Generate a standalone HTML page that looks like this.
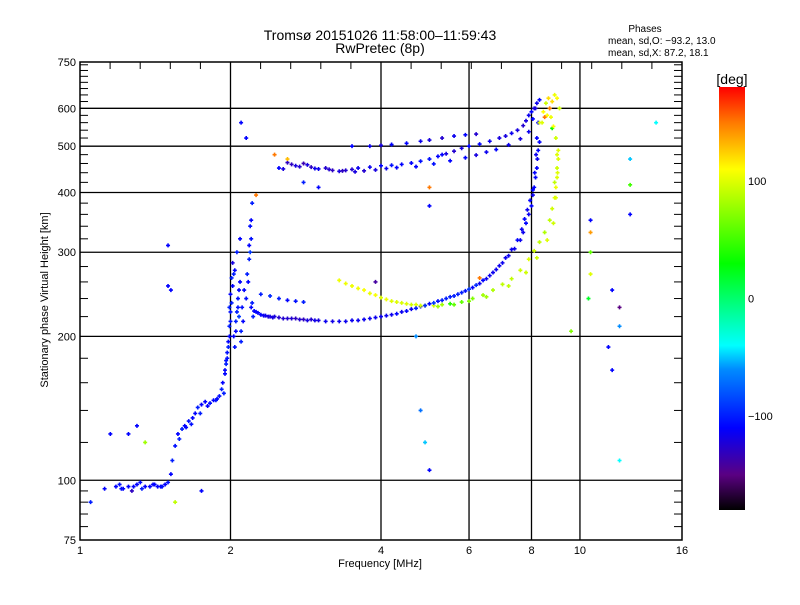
<!DOCTYPE html>
<html><head><meta charset="utf-8"><style>
body{margin:0;background:#fff;}
svg text{font-family:"Liberation Sans",sans-serif;fill:#000;}
</style></head><body>
<svg id="chart" width="800" height="600" viewBox="0 0 800 600" xmlns="http://www.w3.org/2000/svg">
<defs><linearGradient id="cb" x1="0" y1="1" x2="0" y2="0">
<stop offset="0" stop-color="#000"/><stop offset="0.083" stop-color="#5a0082"/><stop offset="0.194" stop-color="#0000ff"/><stop offset="0.333" stop-color="#008cff"/><stop offset="0.389" stop-color="#00ffff"/><stop offset="0.583" stop-color="#00ff00"/><stop offset="0.806" stop-color="#ffff00"/><stop offset="0.917" stop-color="#ff7800"/><stop offset="1" stop-color="#ff0000"/>
</linearGradient></defs>
<text x="380" y="40" font-size="14" text-anchor="middle">Tromsø 20151026 11:58:00–11:59:43</text>
<text x="380" y="53" font-size="14" text-anchor="middle">RwPretec (8p)</text>
<text x="645" y="32" font-size="10" text-anchor="middle">Phases</text>
<text x="608" y="44" font-size="10">mean, sd,O: −93.2, 13.0</text>
<text x="608" y="56" font-size="10">mean, sd,X:  87.2, 18.1</text>
<g id="grid"></g>
<g id="pts"></g>
<g id="axes"></g>
<rect x="80" y="62" width="602" height="478" fill="none" stroke="#000" stroke-width="1.5"/>
<text x="380" y="567" font-size="11" text-anchor="middle">Frequency [MHz]</text>
<text x="48" y="300" font-size="11" text-anchor="middle" transform="rotate(-90 48 300)">Stationary phase Virtual Height [km]</text>
<rect x="719" y="87" width="26" height="423" fill="url(#cb)"/>
<text x="732" y="84" font-size="14" text-anchor="middle">[deg]</text>
<g id="cbticks"></g>
</svg>
<script>
const xTicks=[1,2,4,6,8,10,16];
const yTicks=[75,100,200,300,400,500,600,750];
const cbTicks=[100,0,-100];
const freqs=[1.12,1.18,1.2,1.22,1.25,1.27,1.3,1.32,1.35,1.38,1.4,1.43,1.45,1.48,1.5,1.52,1.53,1.55,1.57,1.6,1.62,1.65,1.68,1.7,1.72,1.75,1.78,1.82,1.85,1.88,1.9,1.92,1.93,1.95,1.96,1.97,1.98,1.99,2.0,2.0,2.01,2.02,1.97,1.99,2.03,2.05,2.07,2.08,2.1,2.04,2.06,2.09,2.12,2.15,2.17,2.18,2.2,2.2,2.21,2.19,2.2,2.22,2.25,2.3,2.35,2.4,2.45,2.5,2.6,2.7,2.8,2.9,3.0,3.2,3.4,3.6,3.8,4.0,4.2,4.4,4.6,4.8,5.0,5.2,5.4,5.6,5.8,6.0,6.2,6.4,6.6,6.8,7.0,7.2,7.4,7.6,7.7,7.8,7.9,8.0,8.05,8.1,8.15,8.2,8.22,8.25,8.3,
2.3,2.4,2.5,2.6,2.7,2.8,
3.3,3.5,3.7,3.9,4.1,4.3,4.5,4.7,4.9,5.1,5.3,5.5,5.8,6.1,6.4,6.7,7.0,7.3,7.6,7.9,8.1,8.3,8.5,8.7,8.8,8.9,8.95,9.0,9.0,9.05,9.0,
2.5,2.6,2.7,2.8,2.9,3.0,3.1,3.2,3.3,3.4,3.5,3.6,3.8,4.0,4.2,4.4,4.6,4.8,5.0,5.2,5.4,5.6,5.8,6.0,6.3,6.6,6.9,7.1,7.3,7.5,7.7,7.8,7.9,8.0,8.1,8.2,8.3,
3.5,3.8,4.0,4.2,4.5,4.8,5.0,5.3,5.6,5.9,6.2,
8.4,8.6,8.7,8.8,8.9,9.0,9.1,8.5,8.8,
2.1,2.15,2.25,2.6,3.0,2.45,2.8,1.5,1.5,1.52,1.15,1.25,1.3,1.05,1.35,1.55,1.75,3.9,4.7,4.8,5.0,5.0,5.3,6.3,10.5,10.5,10.5,10.5,10.4,12,11.6,12,11.6,14.2,12.6,12.6,12.6,12.0,11.4,9.6,5.0,4.9,
1.21,1.28,1.33,1.41,1.46,1.58,1.63,1.67,1.74,1.8,1.87,1.94,1.95,1.96,1.98,1.99,2.0,2.01,2.02,2.03,2.04,2.05,2.06,2.07,2.08,2.09,2.1,2.11,2.13,2.16,2.18,2.19,2.21,2.23,
2.27,2.33,2.38,2.43,2.55,2.65,2.75,2.85,2.95,3.1,3.3,3.5,3.7,3.9,4.1,4.3,4.5,4.7,4.9,5.1,5.3,5.5,5.7,5.9,6.1,6.3,6.5,6.7,6.9,7.1,7.3,7.5,7.65,7.75,7.85,7.95,8.05,8.12,8.17,8.2,8.25,
3.4,3.6,3.8,4.0,4.2,4.4,4.6,4.8,5.2,5.6,6.0,6.5,7.2,7.8,8.2,8.6,8.85,8.95,9.02,
2.55,2.65,2.75,2.85,2.95,3.15,3.35,3.55,3.7,3.9,4.1,4.3,4.7,5.1,5.5,5.9,6.2,6.5,6.8,7.2,7.6,7.9,8.05,8.15,
8.3,8.45,8.55,8.65,8.75,8.85,8.95,9.05,8.7,8.9];
const heights=[96,97,98,96,97,95,98,99,97,97,98,97,97,98,99,103,110,118,125,128,130,133,135,138,142,144,146,145,147,148,150,155,160,167,175,185,195,210,225,245,265,285,180,230,200,215,230,250,195,275,300,320,215,240,260,290,320,350,380,300,230,220,225,222,221,220,220,219,218,218,217,217,216,215,215,216,218,220,222,225,228,231,234,237,240,243,247,251,256,262,268,276,285,295,305,318,330,345,360,375,395,410,430,450,470,490,510,
245,243,240,238,237,236,
262,255,250,244,239,236,234,233,232,232,233,234,236,240,244,250,257,264,275,290,302,315,330,350,370,390,410,430,450,470,480,
450,462,455,460,452,448,450,445,443,445,447,450,452,455,456,458,461,465,470,476,482,488,495,500,505,512,520,525,532,540,552,565,580,590,600,615,625,
500,500,502,504,507,512,515,520,525,528,530,
560,580,600,620,640,630,600,575,545,
560,520,395,470,410,480,420,310,255,250,125,125,130,90,120,90,95,260,200,140,375,410,480,265,350,330,300,270,240,110,170,230,250,560,360,470,415,210,190,205,105,120,
96,97,96,98,97,122,129,131,138,143,147,152,170,178,190,200,215,235,255,270,190,205,225,240,220,260,205,230,250,270,310,340,235,226,
224,221,220,219,218,218,217,216,216,215,215,216,217,219,221,223,226,229,232,235,238,242,245,249,253,258,264,272,281,292,304,318,335,352,368,385,405,440,480,520,560,
258,252,246,241,237,235,233,232,231,233,237,242,255,272,292,318,345,390,440,
448,458,453,457,449,447,444,442,444,446,449,451,453,459,466,473,479,486,492,503,518,536,570,600,
560,590,615,630,575,550,520,490,600,420];
const phases=[-110,-110,-105,-110,-110,-130,-110,-105,-110,-110,-110,-110,-110,-110,-105,-110,-100,-105,-110,-100,-110,-105,-110,-110,-100,-110,-110,-105,-110,-110,-105,-100,-110,-110,-100,-105,-110,-100,-105,-110,-100,-120,-105,-100,-110,-100,-105,-110,-100,-110,-100,-110,-110,-105,-110,-100,-105,-110,-100,-90,-110,-100,-110,-110,-115,-120,-120,-125,-125,-130,-130,-125,-120,-118,-115,-115,-115,-115,-115,-115,-115,-115,-110,-105,-100,-100,-100,-90,-95,-110,-115,-115,-115,-115,-115,-115,-115,-110,-115,-110,-115,-110,-110,-110,-115,-110,-110,
-100,-95,-100,-110,-105,-100,
105,105,108,108,105,100,100,100,100,95,80,40,60,70,80,85,90,90,95,100,95,90,85,90,95,100,105,100,95,100,100,
-110,-130,-120,-135,-130,-115,-125,-130,-120,-125,-125,-115,-115,-110,-105,-110,-110,-105,-105,-110,-120,-125,-120,-110,-110,-115,-120,-120,-115,-120,-125,-120,-115,-110,-120,-115,-110,
-110,-115,-120,-110,-110,-115,-120,-125,-115,-110,-125,
100,110,95,120,105,110,95,150,30,
-110,-110,150,130,-110,150,-100,-110,-110,-110,-110,-110,-110,-100,80,90,-110,-140,-60,-70,-110,150,-110,150,-110,140,60,100,20,-40,-110,-150,-110,-40,-110,-50,50,-60,-110,70,-110,-50,
-105,-110,-100,-110,-105,-100,-110,-105,-100,-110,-105,-100,-110,-105,-100,-110,-105,-100,-110,-100,-105,-110,-100,-105,-90,-110,-100,-105,-110,-100,-110,-105,-100,-110,
-110,-115,-120,-120,-125,-125,-125,-120,-118,-115,-115,-115,-115,-115,-115,-110,-110,-100,-95,-90,-100,-100,-100,-105,-110,-115,-115,-115,-115,-115,-115,-110,-115,-110,-115,-110,-110,-110,-115,-110,-110,
105,106,104,100,100,98,95,95,80,60,70,80,90,95,95,100,95,100,100,
-120,-130,-125,-120,-115,-125,-130,-120,-125,-120,-115,-110,-110,-105,-110,-110,-120,-115,-110,-115,-120,-115,-110,-120,
100,110,95,120,105,110,95,100,150,90];
const X0=80,X1=682,Y0=540,Y1=62;
function xs(f){return X0+(X1-X0)*Math.log2(f)/4;}
function ys(h){return Y0-(Y0-Y1)*Math.log10(h/75);}
function cy(p){return 510-(p+180)/360*423;}
const stops=[[-180,0,0,0],[-150,90,0,130],[-110,0,0,255],[-60,0,140,255],[-40,0,255,255],[30,0,255,0],[110,255,255,0],[150,255,120,0],[180,255,0,0]];
function col(p){for(let i=1;i<stops.length;i++){if(p<=stops[i][0]){const a=stops[i-1],b=stops[i],t=(p-a[0])/(b[0]-a[0]);return`rgb(${[1,2,3].map(k=>Math.round(a[k]+t*(b[k]-a[k]))).join(',')})`;}}return'rgb(255,0,0)';}
const NS='http://www.w3.org/2000/svg';
function mk(t,a){const e=document.createElementNS(NS,t);for(const k in a)e.setAttribute(k,a[k]);return e;}
const grid=document.getElementById('grid'),axes=document.getElementById('axes'),pts=document.getElementById('pts');
xTicks.forEach(f=>{const x=xs(f);
if(f>1&&f<16){const l=mk('line',{x1:x,x2:x,y1:Y1,y2:Y0,stroke:'#000','stroke-width':1.3});grid.appendChild(l);}
const t=mk('text',{x:x,y:554,'font-size':11,'text-anchor':'middle'});t.textContent=f;axes.appendChild(t);});
for(let o=0;o<4;o++)for(let k=1;k<5;k++){const x=X0+(X1-X0)*(o+k/5)/4;const l=mk('line',{x1:x,x2:x,y1:Y1,y2:Y1+7,stroke:'#000'});axes.appendChild(l);}
yTicks.forEach(h=>{const y=ys(h);
if(h>75&&h<750){const l=mk('line',{x1:X0,x2:X1,y1:y,y2:y,stroke:'#000','stroke-width':1.3});grid.appendChild(l);}
const t=mk('text',{x:76,y:y+4,'font-size':11,'text-anchor':'end'});t.textContent=h;axes.appendChild(t);});
for(let h=80;h<750;h+=(h<100?5:20)){if(yTicks.includes(h))continue;const y=ys(h);
const a=mk('line',{x1:X0,x2:X0+8,y1:y,y2:y,stroke:'#000'});axes.appendChild(a);
const b=mk('line',{x1:X1-8,x2:X1,y1:y,y2:y,stroke:'#000'});axes.appendChild(b);}
for(let i=0;i<freqs.length;i++){const x=xs(freqs[i]),y=ys(heights[i]),c=col(phases[i]);
const p=mk('path',{d:`M${x-2} ${y}h4M${x} ${y-2}v4`,stroke:c,'stroke-width':1.6});


pts.appendChild(p);}
const cbt=document.getElementById('cbticks');
cbTicks.forEach(v=>{const t=mk('text',{x:748,y:cy(v)+4,'font-size':11});t.textContent=v===-100?'−100':v;cbt.appendChild(t);});
</script>
</body></html>
